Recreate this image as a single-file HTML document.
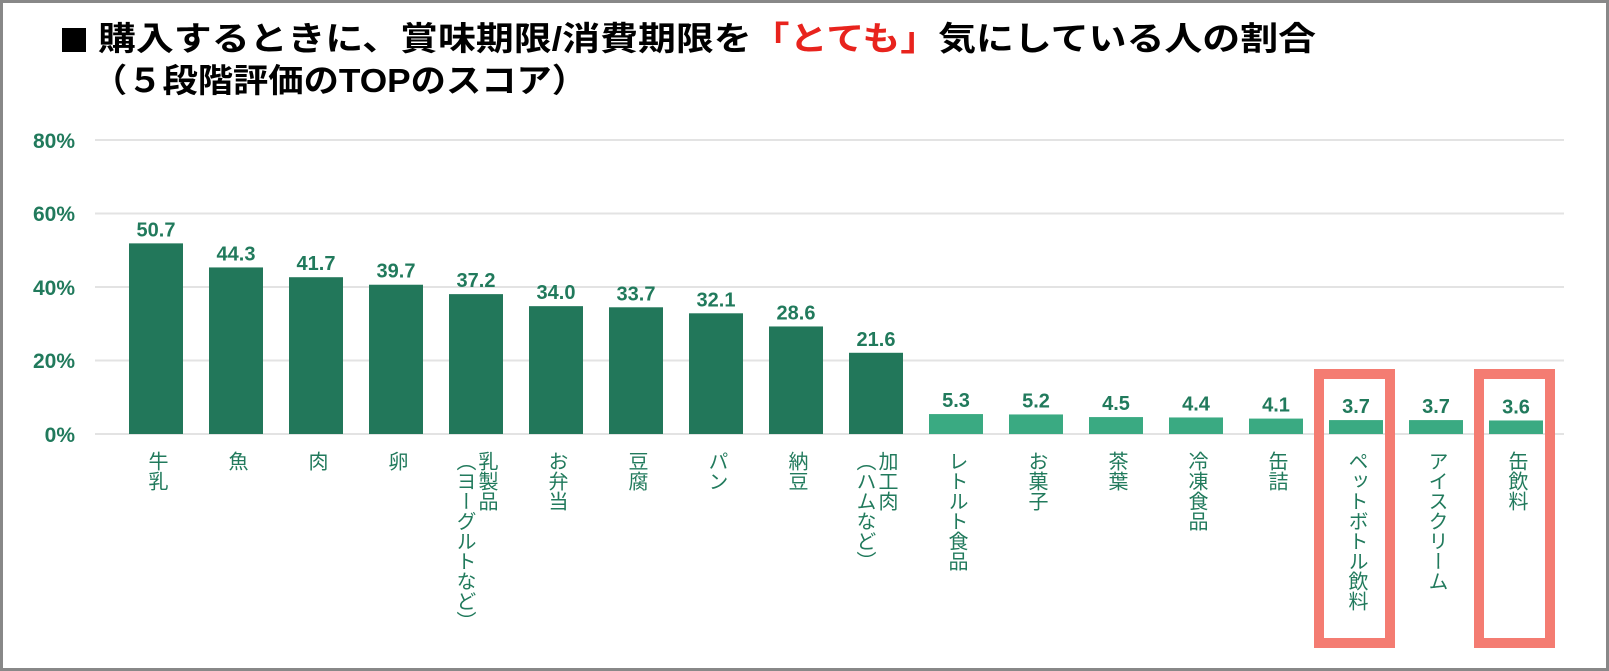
<!DOCTYPE html>
<html><head><meta charset="utf-8"><style>
html,body{margin:0;padding:0;background:#fff;}
svg{display:block;}
text{font-family:"Liberation Sans","Noto Sans CJK JP",sans-serif;}
</style></head><body>
<svg width="1609" height="671" viewBox="0 0 1609 671" xmlns="http://www.w3.org/2000/svg">
<rect x="1.5" y="1.5" width="1606" height="668" fill="#fff" stroke="#888" stroke-width="3"/>
<rect x="62" y="28" width="24" height="24" fill="#000"/>
<text x="98" y="50" font-size="33" font-weight="bold" fill="#000" textLength="1218" lengthAdjust="spacingAndGlyphs">購入するときに、賞味期限/消費期限を<tspan fill="#e8231d">「とても」</tspan>気にしている人の割合</text>
<text x="92" y="92" font-size="33" font-weight="bold" fill="#000" textLength="495" lengthAdjust="spacingAndGlyphs">（５段階評価のTOPのスコア）</text>
<g stroke="#e3e3e3" stroke-width="2">
<line x1="95" x2="1564" y1="140" y2="140"/>
<line x1="95" x2="1564" y1="213.5" y2="213.5"/>
<line x1="95" x2="1564" y1="287" y2="287"/>
<line x1="95" x2="1564" y1="360.5" y2="360.5"/>
<line x1="95" x2="1564" y1="434" y2="434"/>
</g>
<g font-size="21" font-weight="bold" fill="#217a5c" text-anchor="end">
<text x="75" y="148">80%</text>
<text x="75" y="221">60%</text>
<text x="75" y="295">40%</text>
<text x="75" y="368">20%</text>
<text x="75" y="442">0%</text>
</g>
<g id="bars"></g>
<rect x="1319" y="374" width="71" height="269" fill="none" stroke="#f47c72" stroke-width="10"/>
<rect x="1479" y="374" width="71" height="269" fill="none" stroke="#f47c72" stroke-width="10"/>
</svg>
<script>
var d=[["牛乳",50.7],["魚",44.3],["肉",41.7],["卵",39.7],["乳製品|（ヨーグルトなど）",37.2],["お弁当",34.0],["豆腐",33.7],["パン",32.1],["納豆",28.6],["加工肉|（ハムなど）",21.6],["レトルト食品",5.3],["お菓子",5.2],["茶葉",4.5],["冷凍食品",4.4],["缶詰",4.1],["ペットボトル飲料",3.7],["アイスクリーム",3.7],["缶飲料",3.6]];
var g=document.getElementById("bars"),h="";
d.forEach(function(e,i){
 var cx=156+80*i,top=434-e[1]*3.76,col=i<10?"#22775a":"#3aaa82";
 h+='<rect x="'+(cx-27)+'" y="'+top+'" width="54" height="'+(434-top)+'" fill="'+col+'"/>';
 h+='<text x="'+cx+'" y="'+(top-7)+'" font-size="20" font-weight="bold" fill="#217a5c" text-anchor="middle">'+e[1].toFixed(1)+'</text>';
 var parts=e[0].split("|");
 parts.forEach(function(p,k){
  var x=parts.length>1?(k==0?cx+10:cx-12):cx;
  h+='<text x="'+x+'" y="451" font-size="20" fill="#217a5c" style="writing-mode:vertical-rl;glyph-orientation-vertical:0">'+p+'</text>';
 });
});
g.innerHTML=h;
</script>
</body></html>
